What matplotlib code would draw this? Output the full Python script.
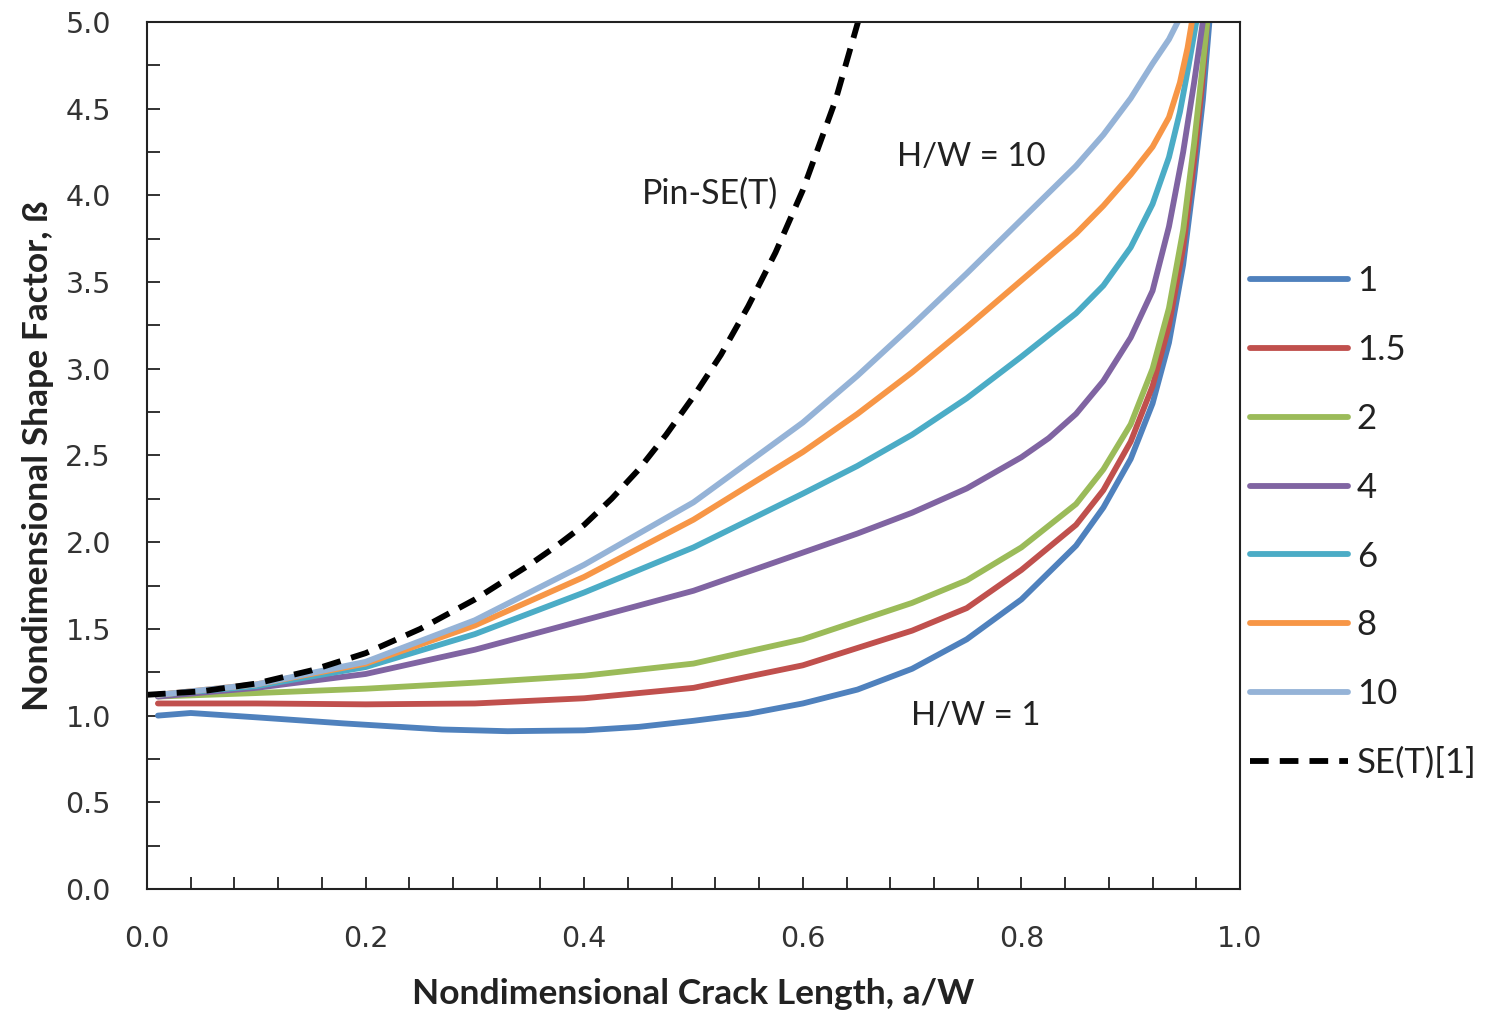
import matplotlib
matplotlib.use("Agg")
import matplotlib.pyplot as plt
from matplotlib.ticker import MultipleLocator

# --- data ---
a_hw1 = [0.01, 0.04, 0.1, 0.18, 0.27, 0.33, 0.4, 0.45, 0.5, 0.55, 0.6, 0.65, 0.7,
         0.75, 0.8, 0.85, 0.875, 0.9, 0.92, 0.935, 0.948, 0.958, 0.966, 0.972]
b_hw1 = [1.00, 1.015, 0.99, 0.955, 0.92, 0.91, 0.915, 0.935, 0.97, 1.01, 1.07, 1.15, 1.27,
         1.44, 1.67, 1.98, 2.20, 2.48, 2.80, 3.15, 3.60, 4.10, 4.55, 5.0]

a_hw15 = [0.01, 0.1, 0.2, 0.3, 0.4, 0.5, 0.6, 0.7, 0.75, 0.8, 0.85, 0.875,
          0.9, 0.92, 0.935, 0.948, 0.958, 0.965, 0.97]
b_hw15 = [1.07, 1.07, 1.065, 1.07, 1.10, 1.16, 1.29, 1.49, 1.62, 1.84, 2.10, 2.30,
          2.58, 2.90, 3.25, 3.70, 4.20, 4.62, 5.0]

a_hw2 = [0.01, 0.1, 0.2, 0.3, 0.4, 0.5, 0.6, 0.7, 0.75, 0.8, 0.85, 0.875,
         0.9, 0.92, 0.935, 0.948, 0.958, 0.965, 0.97]
b_hw2 = [1.11, 1.13, 1.155, 1.19, 1.23, 1.30, 1.44, 1.65, 1.78, 1.97, 2.22, 2.42,
         2.68, 3.00, 3.35, 3.80, 4.30, 4.70, 5.0]

a_hw4 = [0.01, 0.1, 0.2, 0.3, 0.4, 0.5, 0.6, 0.65, 0.7, 0.75, 0.8, 0.825, 0.85,
         0.875, 0.9, 0.92, 0.935, 0.948, 0.958, 0.966]
b_hw4 = [1.11, 1.16, 1.24, 1.38, 1.55, 1.72, 1.94, 2.05, 2.17, 2.31, 2.49, 2.60, 2.74,
         2.93, 3.18, 3.45, 3.82, 4.25, 4.65, 5.0]

a_hw6 = [0.01, 0.1, 0.2, 0.3, 0.4, 0.5, 0.6, 0.65, 0.7, 0.75, 0.8, 0.85, 0.875,
         0.9, 0.92, 0.935, 0.945, 0.953, 0.96]
b_hw6 = [1.12, 1.17, 1.28, 1.47, 1.71, 1.97, 2.28, 2.44, 2.62, 2.83, 3.07, 3.32, 3.48,
         3.70, 3.95, 4.22, 4.48, 4.75, 5.0]

a_hw8 = [0.01, 0.1, 0.2, 0.3, 0.4, 0.5, 0.6, 0.65, 0.7, 0.75, 0.8, 0.85, 0.875,
         0.9, 0.92, 0.935, 0.945, 0.952, 0.956]
b_hw8 = [1.12, 1.18, 1.30, 1.52, 1.80, 2.13, 2.52, 2.74, 2.98, 3.24, 3.51, 3.78, 3.94,
         4.12, 4.28, 4.45, 4.65, 4.85, 5.0]

a_hw10 = [0.01, 0.1, 0.2, 0.3, 0.4, 0.5, 0.6, 0.65, 0.7, 0.75, 0.8, 0.85, 0.875,
          0.9, 0.92, 0.935, 0.943]
b_hw10 = [1.12, 1.18, 1.31, 1.55, 1.87, 2.23, 2.69, 2.96, 3.25, 3.55, 3.86, 4.17, 4.35,
          4.56, 4.76, 4.90, 5.0]

a_set = [0.0, 0.05, 0.1, 0.15, 0.2, 0.25, 0.3, 0.35, 0.375, 0.4, 0.425, 0.45, 0.475,
         0.5, 0.525, 0.55, 0.575, 0.6, 0.63, 0.6505]
b_set = [1.12, 1.14, 1.185, 1.26, 1.36, 1.50, 1.67, 1.87, 1.98, 2.10, 2.25, 2.42, 2.62,
         2.84, 3.08, 3.36, 3.67, 4.03, 4.55, 5.0]

series_labels = ["1", "1.5", "2", "4", "6", "8", "10"]
series_colors = ["#4F81BD", "#C0504D", "#9BBB59", "#8064A2", "#4BACC6", "#F79646", "#95B3D7"]
series_a = [a_hw1, a_hw15, a_hw2, a_hw4, a_hw6, a_hw8, a_hw10]
series_b = [b_hw1, b_hw15, b_hw2, b_hw4, b_hw6, b_hw8, b_hw10]

x_ticks = [0.0, 0.2, 0.4, 0.6, 0.8, 1.0]
y_ticks = [0.0, 0.5, 1.0, 1.5, 2.0, 2.5, 3.0, 3.5, 4.0, 4.5, 5.0]

# --- figure ---
fig = plt.figure(figsize=(14.85, 10.17), dpi=100)
ax = fig.add_axes([147 / 1485, 128 / 1017, 1093 / 1485, 867 / 1017])

for a, b, lab, col in zip(series_a, series_b, series_labels, series_colors):
    ax.plot(a, b, color=col, lw=4.2, label=lab, solid_capstyle="round",
            solid_joinstyle="round")
ax.plot(a_set, b_set, color="black", lw=4.2, ls=(0, (3.2, 1.9)), label="SE(T)[1]")

ax.set_xlim(0, 1)
ax.set_ylim(0, 5)
ax.set_xticks(x_ticks)
ax.set_yticks(y_ticks)
ax.set_xticklabels([f"{v:.1f}" for v in x_ticks])
ax.set_yticklabels([f"{v:.1f}" for v in y_ticks])
ax.xaxis.set_minor_locator(MultipleLocator(0.04))
ax.yaxis.set_minor_locator(MultipleLocator(0.25))
ax.tick_params(which="both", direction="in", length=9, width=1.3, color="#222222",
               top=False, right=False)
ax.tick_params(which="major", labelsize=20.5, labelcolor="#333333", pad=26)
for sp in ax.spines.values():
    sp.set_linewidth(1.5)
    sp.set_color("#222222")

ax.set_xlabel("Nondimensional Crack Length, a/W", family="Lato", fontweight="bold",
              fontsize=25.5, color="#222222", labelpad=18)
ax.set_ylabel("Nondimensional Shape Factor, ß", family="Lato", fontweight="bold",
              fontsize=25.5, color="#222222", labelpad=8)

ax.text(0.515, 4.01, "Pin-SE(T)", family="Lato", fontsize=24.5, color="#222222",
        ha="center", va="center")
ax.text(0.754, 4.22, "H/W = 10", family="Lato", fontsize=23.8, color="#222222",
        ha="center", va="center")
ax.text(0.758, 1.0, "H/W = 1", family="Lato", fontsize=23.8, color="#222222",
        ha="center", va="center")

leg = ax.legend(loc="center left", bbox_to_anchor=(1.009, 0.423), frameon=False,
                prop={"family": "Lato", "size": 25}, handlelength=2.82,
                handletextpad=0.26, labelspacing=1.06, borderpad=0, borderaxespad=0)
for t in leg.get_texts():
    t.set_color("#222222")

fig.savefig("out.png", dpi=100, facecolor="white")
